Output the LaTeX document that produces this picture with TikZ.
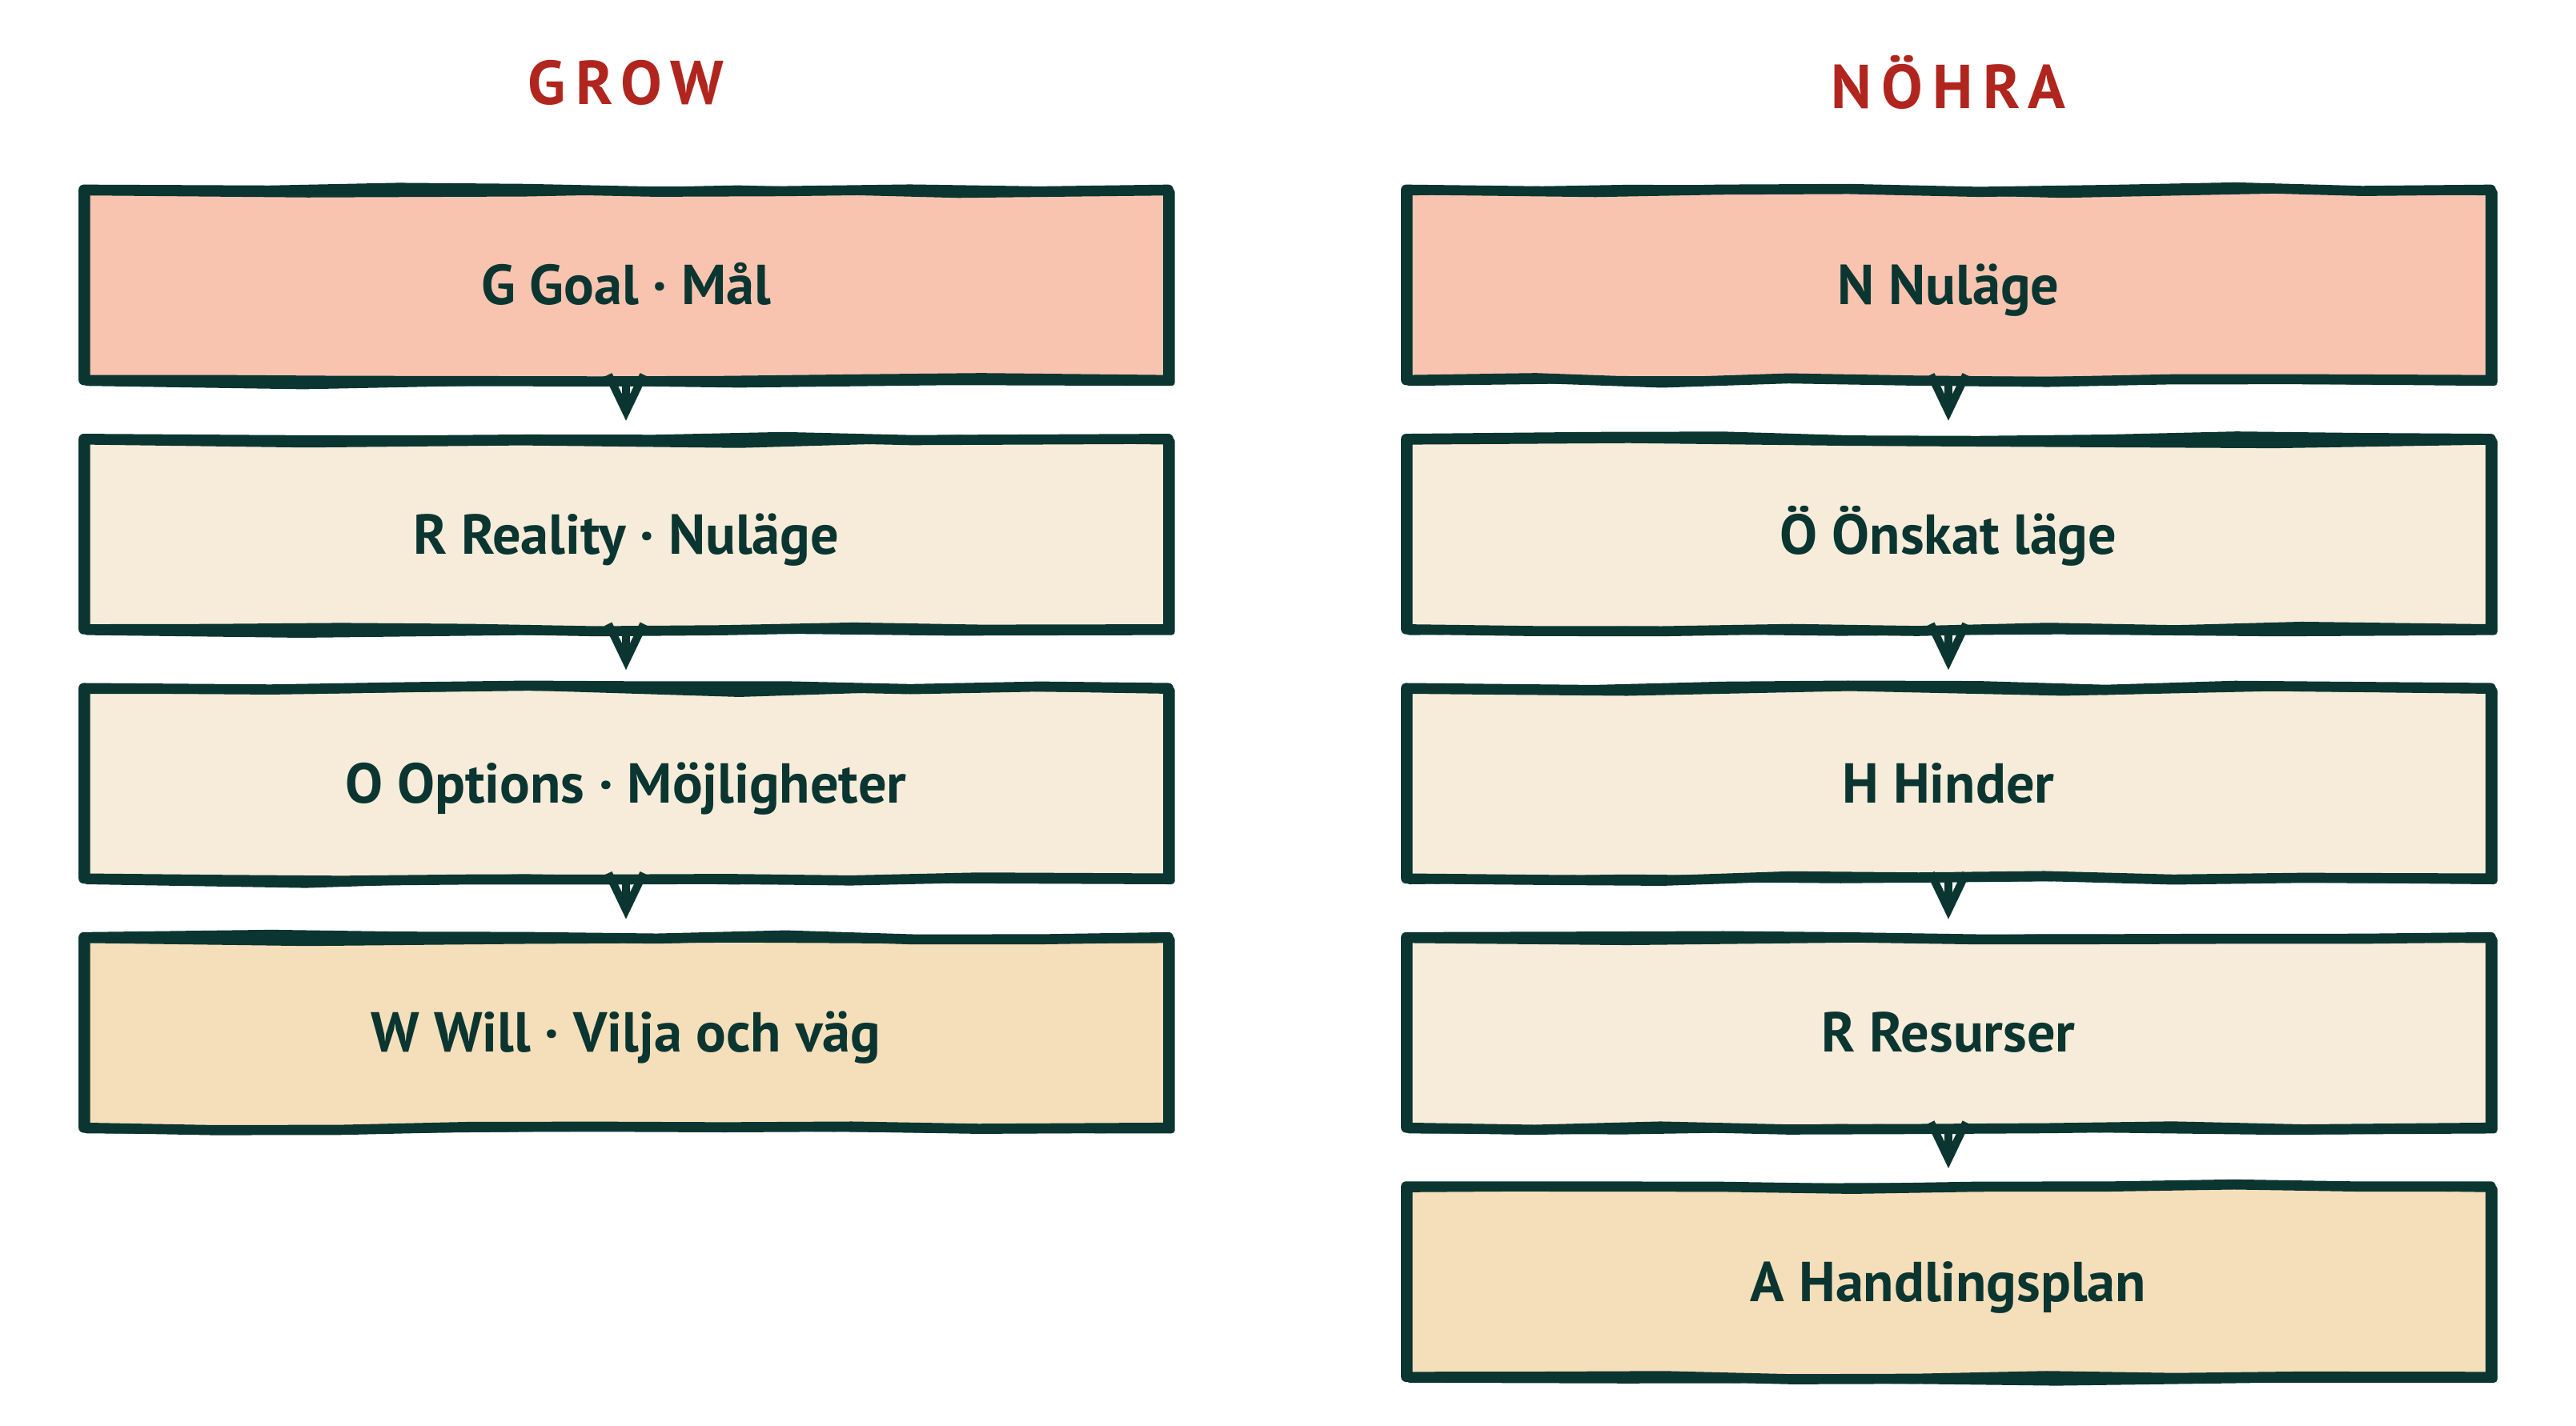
\documentclass[tikz,border=0pt]{standalone}
\usepackage{fontspec}
\setmainfont{PT Sans}
\usetikzlibrary{positioning,arrows.meta,decorations.pathmorphing}
\definecolor{ink}{HTML}{0B3530}
\definecolor{titlered}{HTML}{B0261E}
\definecolor{salmon}{HTML}{F8C4AF}
\definecolor{cream}{HTML}{F7ECDA}
\definecolor{sand}{HTML}{F5DFBA}
\tikzset{
  stepbox/.style={fill=#1, minimum width=13.55cm, minimum height=2.38cm,
    text=ink, font=\bfseries\fontsize{20}{24}\selectfont,
    text height=14pt, text depth=0pt,
    postaction={draw=ink, line width=3.6pt, line join=round,
      decorate, decoration={random steps, segment length=1.6cm, amplitude=0.9pt}},
    postaction={draw=ink, line width=2.4pt, line join=round,
      transform canvas={shift={(0.04cm,-0.03cm)}},
      decorate, decoration={random steps, segment length=2.7cm, amplitude=1.4pt}}},
  coltitle/.style={text=titlered,
    font=\bfseries\fontsize{22}{26}\selectfont\addfontfeature{LetterSpace=16}},
  flow/.style={draw=ink, line width=2.8pt, shorten >=0.22cm,
    -{Straight Barb[length=0.46cm, width=0.44cm, line width=2.8pt]}},
}
\begin{document}
\begin{tikzpicture}[node distance=0.72cm]
\pgfmathsetseed{11}
\useasboundingbox (0,0) rectangle (32.18,-17.82);
% GROW
\node[coltitle] (grow) at (7.82,-1.03) {GROW};
\node[stepbox=salmon] (g) at (7.82,-3.56) {G Goal · Mål};
\node[stepbox=cream, below=of g] (r) {R Reality · Nuläge};
\node[stepbox=cream, below=of r] (o) {O Options · Möjligheter};
\node[stepbox=sand, below=of o] (w) {W Will · Vilja och väg};
\draw[flow] (g.south) -- (r.north);
\draw[flow] (r.south) -- (o.north);
\draw[flow] (o.south) -- (w.north);
% NÖHRA
\node[coltitle] (nohra) at (24.34,-1.03) {NÖHRA};
\node[stepbox=salmon] (n) at (24.34,-3.56) {N Nuläge};
\node[stepbox=cream, below=of n] (oe) {Ö Önskat läge};
\node[stepbox=cream, below=of oe] (h) {H Hinder};
\node[stepbox=cream, below=of h] (re) {R Resurser};
\node[stepbox=sand, below=of re] (a) {A Handlingsplan};
\draw[flow] (n.south) -- (oe.north);
\draw[flow] (oe.south) -- (h.north);
\draw[flow] (h.south) -- (re.north);
\draw[flow] (re.south) -- (a.north);
\end{tikzpicture}
\end{document}
